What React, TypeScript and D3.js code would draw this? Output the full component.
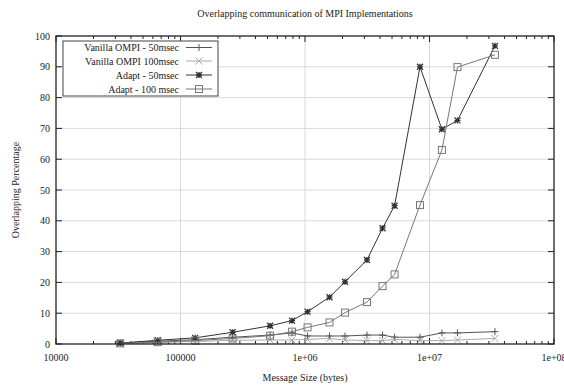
import React from "react";
import * as d3 from "d3";

const sizes = [32768, 65536, 131072, 262144, 524288, 786432, 1048576, 1572864, 2097152, 3145728, 4194304, 5242880, 8388608, 12582912, 16777216, 33554432];
const vanilla50 = [0.3, 0.9, 1.4, 2.2, 2.9, 3.6, 2.6, 2.6, 2.6, 2.9, 2.9, 2.2, 2.2, 3.6, 3.6, 4.0];
const vanilla100 = [0.1, 0.5, 0.8, 1.2, 1.3, 1.3, 1.5, 1.8, 1.3, 1.1, 1.1, 1.5, 1.1, 1.1, 1.3, 1.8];
const adapt50 = [0.3, 1.2, 2.0, 3.8, 5.9, 7.6, 10.5, 15.2, 20.2, 27.3, 37.6, 44.9, 90.0, 69.7, 72.6, 96.8];
const adapt100 = [0.2, 0.6, 1.1, 1.8, 2.7, 4.0, 5.4, 7.0, 10.2, 13.6, 18.8, 22.6, 45.1, 63.0, 89.9, 93.9];
const seriesNames = ["Vanilla OMPI - 50msec", "Vanilla OMPI 100msec", "Adapt - 50msec", "Adapt - 100 msec"];
const xTickValues = [1e4, 1e5, 1e6, 1e7, 1e8];
const xTickLabels = ["10000", "100000", "1e+06", "1e+07", "1e+08"];
const yTickValues = [0, 10, 20, 30, 40, 50, 60, 70, 80, 90, 100];

const W = 564, H = 387;
const L = 56, R = 554, T = 36, B = 344;
const FONT = "'Liberation Serif', 'Times New Roman', serif";

const series = [
  { name: seriesNames[0], values: vanilla50, color: "#555", marker: "plus" },
  { name: seriesNames[1], values: vanilla100, color: "#aaa", marker: "cross" },
  { name: seriesNames[2], values: adapt50, color: "#333", marker: "star" },
  { name: seriesNames[3], values: adapt100, color: "#777", marker: "square" },
];

function Marker({ type, x, y, color }: { type: string; x: number; y: number; color: string }) {
  const s = 3.5;
  if (type === "plus")
    return <path d={`M${x - s},${y}H${x + s}M${x},${y - s}V${y + s}`} stroke={color} strokeWidth={1} fill="none" />;
  if (type === "cross")
    return <path d={`M${x - s},${y - s}L${x + s},${y + s}M${x - s},${y + s}L${x + s},${y - s}`} stroke={color} strokeWidth={1} fill="none" />;
  if (type === "star") {
    const t = 3;
    return (
      <path
        d={`M${x - t},${y}H${x + t}M${x},${y - t}V${y + t}M${x - t},${y - t}L${x + t},${y + t}M${x - t},${y + t}L${x + t},${y - t}`}
        stroke={color}
        strokeWidth={1.3}
        fill="none"
      />
    );
  }
  return <rect x={x - 3.5} y={y - 3.5} width={7} height={7} stroke={color} strokeWidth={1} fill="none" />;
}

export default function App() {
  const x = d3.scaleLog().domain([1e4, 1e8]).range([L, R]);
  const y = d3.scaleLinear().domain([0, 100]).range([B, T]);
  const line = d3
    .line<[number, number]>()
    .x((d) => x(d[0]))
    .y((d) => y(d[1]));

  const minor: number[] = [];
  for (let e = 4; e < 8; e++) for (let m = 2; m <= 9; m++) minor.push(m * Math.pow(10, e));

  const legX0 = 63, legX1 = 218, legY0 = 41, legY1 = 96;
  const rowY = [47.5, 61, 75, 89];

  return (
    <svg width={W} height={H} style={{ position: "absolute", left: 0, top: 0, background: "#fff" }} fontFamily={FONT}>
      <rect x={0} y={0} width={W} height={H} fill="#fff" />
      {/* grid */}
      {yTickValues.slice(1, -1).map((v) => (
        <line key={"gy" + v} x1={L} x2={R} y1={y(v)} y2={y(v)} stroke="#d9d9d9" strokeWidth={1} />
      ))}
      {xTickValues.slice(1, -1).map((v) => (
        <line key={"gx" + v} x1={x(v)} x2={x(v)} y1={T} y2={B} stroke="#d9d9d9" strokeWidth={1} />
      ))}
      {/* ticks */}
      {yTickValues.map((v) => (
        <g key={"ty" + v}>
          <line x1={L} x2={L + 6} y1={y(v)} y2={y(v)} stroke="#222" />
          <line x1={R} x2={R - 6} y1={y(v)} y2={y(v)} stroke="#222" />
          <text x={L - 6} y={y(v) + 3.5} fontSize={10} textAnchor="end" fill="#222">
            {v}
          </text>
        </g>
      ))}
      {xTickValues.map((v, i) => (
        <g key={"tx" + v}>
          <line x1={x(v)} x2={x(v)} y1={B} y2={B - 6} stroke="#222" />
          <line x1={x(v)} x2={x(v)} y1={T} y2={T + 6} stroke="#222" />
          <text x={x(v)} y={B + 17} fontSize={10} textAnchor="middle" fill="#222">
            {xTickLabels[i]}
          </text>
        </g>
      ))}
      {minor.map((v) => (
        <g key={"mx" + v}>
          <line x1={x(v)} x2={x(v)} y1={B} y2={B - 3} stroke="#222" />
          <line x1={x(v)} x2={x(v)} y1={T} y2={T + 3} stroke="#222" />
        </g>
      ))}
      {/* series */}
      {series.map((s) => (
        <g key={s.name}>
          <path
            d={line(sizes.map((sz, i) => [sz, s.values[i]] as [number, number])) || ""}
            stroke={s.color}
            strokeWidth={1}
            fill="none"
          />
          {sizes.map((sz, i) => (
            <Marker key={i} type={s.marker} x={x(sz)} y={y(s.values[i])} color={s.color} />
          ))}
        </g>
      ))}
      {/* border */}
      <rect x={L} y={T} width={R - L} height={B - T} fill="none" stroke="#222" strokeWidth={1.3} />
      {/* legend */}
      <rect x={legX0} y={legY0} width={legX1 - legX0} height={legY1 - legY0} fill="#fff" stroke="#444" strokeWidth={1} />
      {series.map((s, i) => (
        <g key={"leg" + i}>
          <text x={179} y={rowY[i] + 3.5} fontSize={10} textAnchor="end" fill="#222">
            {s.name}
          </text>
          <line x1={186} x2={212} y1={rowY[i]} y2={rowY[i]} stroke={s.color} strokeWidth={1} />
          <Marker type={s.marker} x={199} y={rowY[i]} color={s.color} />
        </g>
      ))}
      {/* titles */}
      <text x={(L + R) / 2} y={17} fontSize={10} textAnchor="middle" fill="#222">
        Overlapping communication of MPI Implementations
      </text>
      <text x={(L + R) / 2} y={381} fontSize={10} textAnchor="middle" fill="#222">
        Message Size (bytes)
      </text>
      <text transform={`translate(19,${(T + B) / 2}) rotate(-90)`} fontSize={10} textAnchor="middle" fill="#222">
        Overlapping Percentage
      </text>
    </svg>
  );
}
